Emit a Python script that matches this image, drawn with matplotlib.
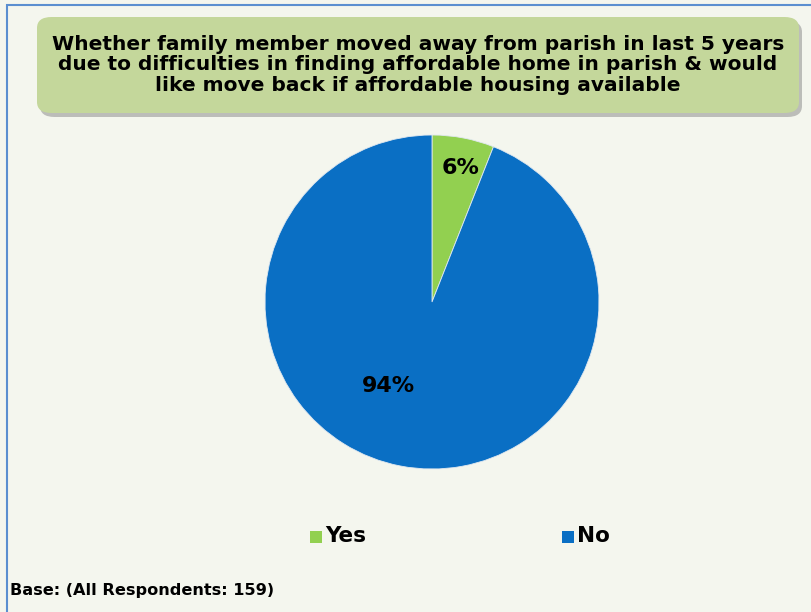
import numpy as np
import matplotlib.pyplot as plt
from matplotlib.patches import FancyBboxPatch, Rectangle

# data
labels = ["Yes", "No"]
values = [6, 94]
colors = ["#92D050", "#0A6FC4"]
title = ("Whether family member moved away from parish in last 5 years\n"
         "due to difficulties in finding affordable home in parish & would\n"
         "like move back if affordable housing available")
base_note = "Base: (All Respondents: 159)"

W, H = 812, 612
fig = plt.figure(figsize=(W / 100, H / 100), dpi=100)
fig.patch.set_facecolor("#F4F6EE")

# outer frame (only left / top edges visible)
fig.patches.append(Rectangle((7 / W, -0.01), 1.0, 1 - 5 / H + 0.01, transform=fig.transFigure,
                             fill=False, edgecolor="#5B8FD0", linewidth=1.5))

# title box with shadow
bx, by, bw, bh = 37 / W, 1 - 113 / H, 762 / W, 96 / H
rs = "round,pad=0,rounding_size=0.018"
shadow = FancyBboxPatch((bx + 3 / W, by - 4 / H), bw, bh, boxstyle=rs,
                        transform=fig.transFigure, facecolor="#8E8E8E", edgecolor="none", alpha=0.55)
box = FancyBboxPatch((bx, by), bw, bh, boxstyle=rs,
                     transform=fig.transFigure, facecolor="#C4D79B", edgecolor="none")
fig.patches.append(shadow)
fig.patches.append(box)
fig.text(bx + bw / 2, 1 - 65 / H, title, ha="center", va="center", fontsize=14.5,
         fontweight="bold", linespacing=1.12, color="black")

# pie
cx, cy, r = 432, 302, 167
ax = fig.add_axes([(cx - r) / W, 1 - (cy + r) / H, 2 * r / W, 2 * r / H])
ax.set_facecolor("none")
wedges, texts, autotexts = ax.pie(values, colors=colors, startangle=90, counterclock=False,
                                  autopct="%d%%", pctdistance=0.6,
                                  wedgeprops=dict(edgecolor="#E0E8F0", linewidth=0.6),
                                  textprops=dict(fontsize=16, fontweight="bold", color="black"))
autotexts[0].set_position((0.17, 0.80))
autotexts[1].set_position((-0.26, -0.50))
ax.set_xlim(-1, 1)
ax.set_ylim(-1, 1)
ax.set_aspect("equal")

# legend
for lab, col, x in zip(labels, colors, [310, 562]):
    fig.patches.append(Rectangle((x / W, 1 - 543 / H), 12 / W, 12 / H,
                                 transform=fig.transFigure, facecolor=col, edgecolor="none"))
    fig.text((x + 15) / W, 1 - 536 / H, lab, ha="left", va="center", fontsize=15.5,
             fontweight="bold")

fig.text(10 / W, 1 - 591 / H, base_note, ha="left", va="center", fontsize=11.6, fontweight="bold")

fig.savefig("out.png", dpi=100, facecolor=fig.get_facecolor())
